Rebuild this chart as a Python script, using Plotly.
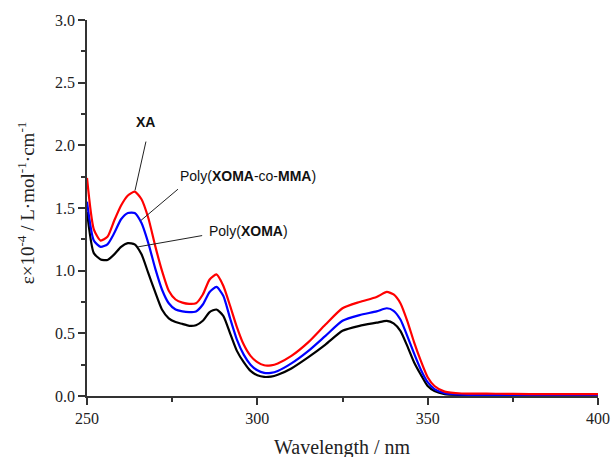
import plotly.graph_objects as go

wavelength = [250, 252, 254, 256, 258, 260, 262, 264, 266, 268, 270, 272, 274, 276, 278, 280,
              282, 284, 286, 288, 290, 292, 294, 296, 298, 300, 302, 304, 306, 310, 315, 320,
              325, 330, 335, 338, 340, 342, 344, 346, 348, 350, 352, 355, 360, 370, 380, 390, 400]

xa = [1.74, 1.33, 1.24, 1.27, 1.40, 1.52, 1.60, 1.63, 1.57, 1.42, 1.20, 1.00, 0.84, 0.77, 0.745, 0.735,
      0.74, 0.81, 0.93, 0.97, 0.88, 0.72, 0.55, 0.41, 0.32, 0.27, 0.245, 0.245, 0.26, 0.32, 0.43, 0.57,
      0.70, 0.75, 0.79, 0.83, 0.81, 0.74, 0.60, 0.43, 0.28, 0.15, 0.08, 0.035, 0.02, 0.018, 0.015, 0.015, 0.015]

poly_co = [1.55, 1.24, 1.19, 1.21, 1.30, 1.41, 1.46, 1.46, 1.38, 1.22, 1.02, 0.85, 0.74, 0.69, 0.675, 0.67,
           0.675, 0.73, 0.83, 0.87, 0.80, 0.62, 0.45, 0.33, 0.25, 0.205, 0.185, 0.185, 0.20, 0.26, 0.36, 0.48,
           0.60, 0.645, 0.675, 0.70, 0.68, 0.61, 0.48, 0.34, 0.21, 0.11, 0.055, 0.022, 0.01, 0.008, 0.007, 0.007, 0.007]

poly_xoma = [1.47, 1.14, 1.09, 1.085, 1.13, 1.19, 1.22, 1.21, 1.13, 0.98, 0.83, 0.69, 0.62, 0.59, 0.575, 0.56,
             0.565, 0.60, 0.67, 0.69, 0.64, 0.50, 0.36, 0.27, 0.20, 0.165, 0.152, 0.155, 0.17, 0.22, 0.31, 0.41,
             0.52, 0.56, 0.585, 0.60, 0.58, 0.52, 0.40, 0.27, 0.17, 0.08, 0.04, 0.015, 0.008, 0.006, 0.006, 0.006, 0.006]

x_title = "Wavelength / nm"
y_title = "ε×10<sup>-4</sup> / L·mol<sup>-1</sup>·cm<sup>-1</sup>"

fig = go.Figure()
for ys, col, name in [(poly_xoma, "#000000", "Poly(XOMA)"), (poly_co, "#0000ff", "Poly(XOMA-co-MMA)"), (xa, "#ff0000", "XA")]:
    fig.add_trace(go.Scatter(x=wavelength, y=ys, mode="lines", name=name,
                             line=dict(color=col, width=2.2, shape="spline", smoothing=0.6)))

lab_font = dict(family="Liberation Sans, Arial", size=14, color="#111")
fig.add_annotation(x=267.3, y=2.19, text="<b>XA</b>", showarrow=False, font=lab_font, xanchor="center", yanchor="middle")
fig.add_annotation(x=276.7, y=1.756, text="Poly(<b>XOMA</b>-co-<b>MMA</b>)", showarrow=False, font=lab_font, xanchor="left", yanchor="middle")
fig.add_annotation(x=285.2, y=1.317, text="Poly(<b>XOMA</b>)", showarrow=False, font=lab_font, xanchor="left", yanchor="middle")

for (x0, y0, x1, y1) in [(267.3, 2.03, 264.1, 1.64), (276.7, 1.65, 265.8, 1.40), (283.8, 1.28, 265.0, 1.19)]:
    fig.add_shape(type="line", x0=x0, y0=y0, x1=x1, y1=y1, xref="x", yref="y",
                  line=dict(color="#222", width=1))

serif = "Liberation Serif, Times New Roman, serif"
fig.add_annotation(xref="paper", yref="paper", x=0.5, y=-0.138, text=x_title, showarrow=False,
                   xanchor="center", yanchor="middle", font=dict(family=serif, size=20, color="#222"))
fig.add_annotation(xref="paper", yref="paper", x=-0.119, y=0.513, text=y_title, showarrow=False, textangle=-90,
                   xanchor="center", yanchor="middle", font=dict(family=serif, size=19, color="#222"))

fig.update_layout(
    width=611, height=457,
    margin=dict(l=87, r=13, t=20, b=61),
    paper_bgcolor="white", plot_bgcolor="white",
    showlegend=False,
    xaxis=dict(range=[250, 400], tickvals=[250, 300, 350, 400], ticks="outside", ticklen=7, tickwidth=1.5,
               automargin=False,
               tickcolor="#333", showline=True, linecolor="#333", linewidth=1.5, showgrid=False, zeroline=False,
               minor=dict(tickvals=[275, 325, 375], ticks="outside", ticklen=4, tickcolor="#333", tickwidth=1.5),
               tickfont=dict(family=serif, size=16, color="#222")),
    yaxis=dict(range=[0, 3.0], tickvals=[0, 0.5, 1.0, 1.5, 2.0, 2.5, 3.0], tickformat=".1f", ticks="outside",
               automargin=False,
               ticklen=7, tickwidth=1.5, tickcolor="#333", showline=True, linecolor="#333", linewidth=1.5,
               showgrid=False, zeroline=False,
               minor=dict(tickvals=[0.25, 0.75, 1.25, 1.75, 2.25, 2.75], ticks="outside", ticklen=4, tickcolor="#333", tickwidth=1.5),
               tickfont=dict(family=serif, size=16, color="#222")),
)

fig.write_html("out.html")
